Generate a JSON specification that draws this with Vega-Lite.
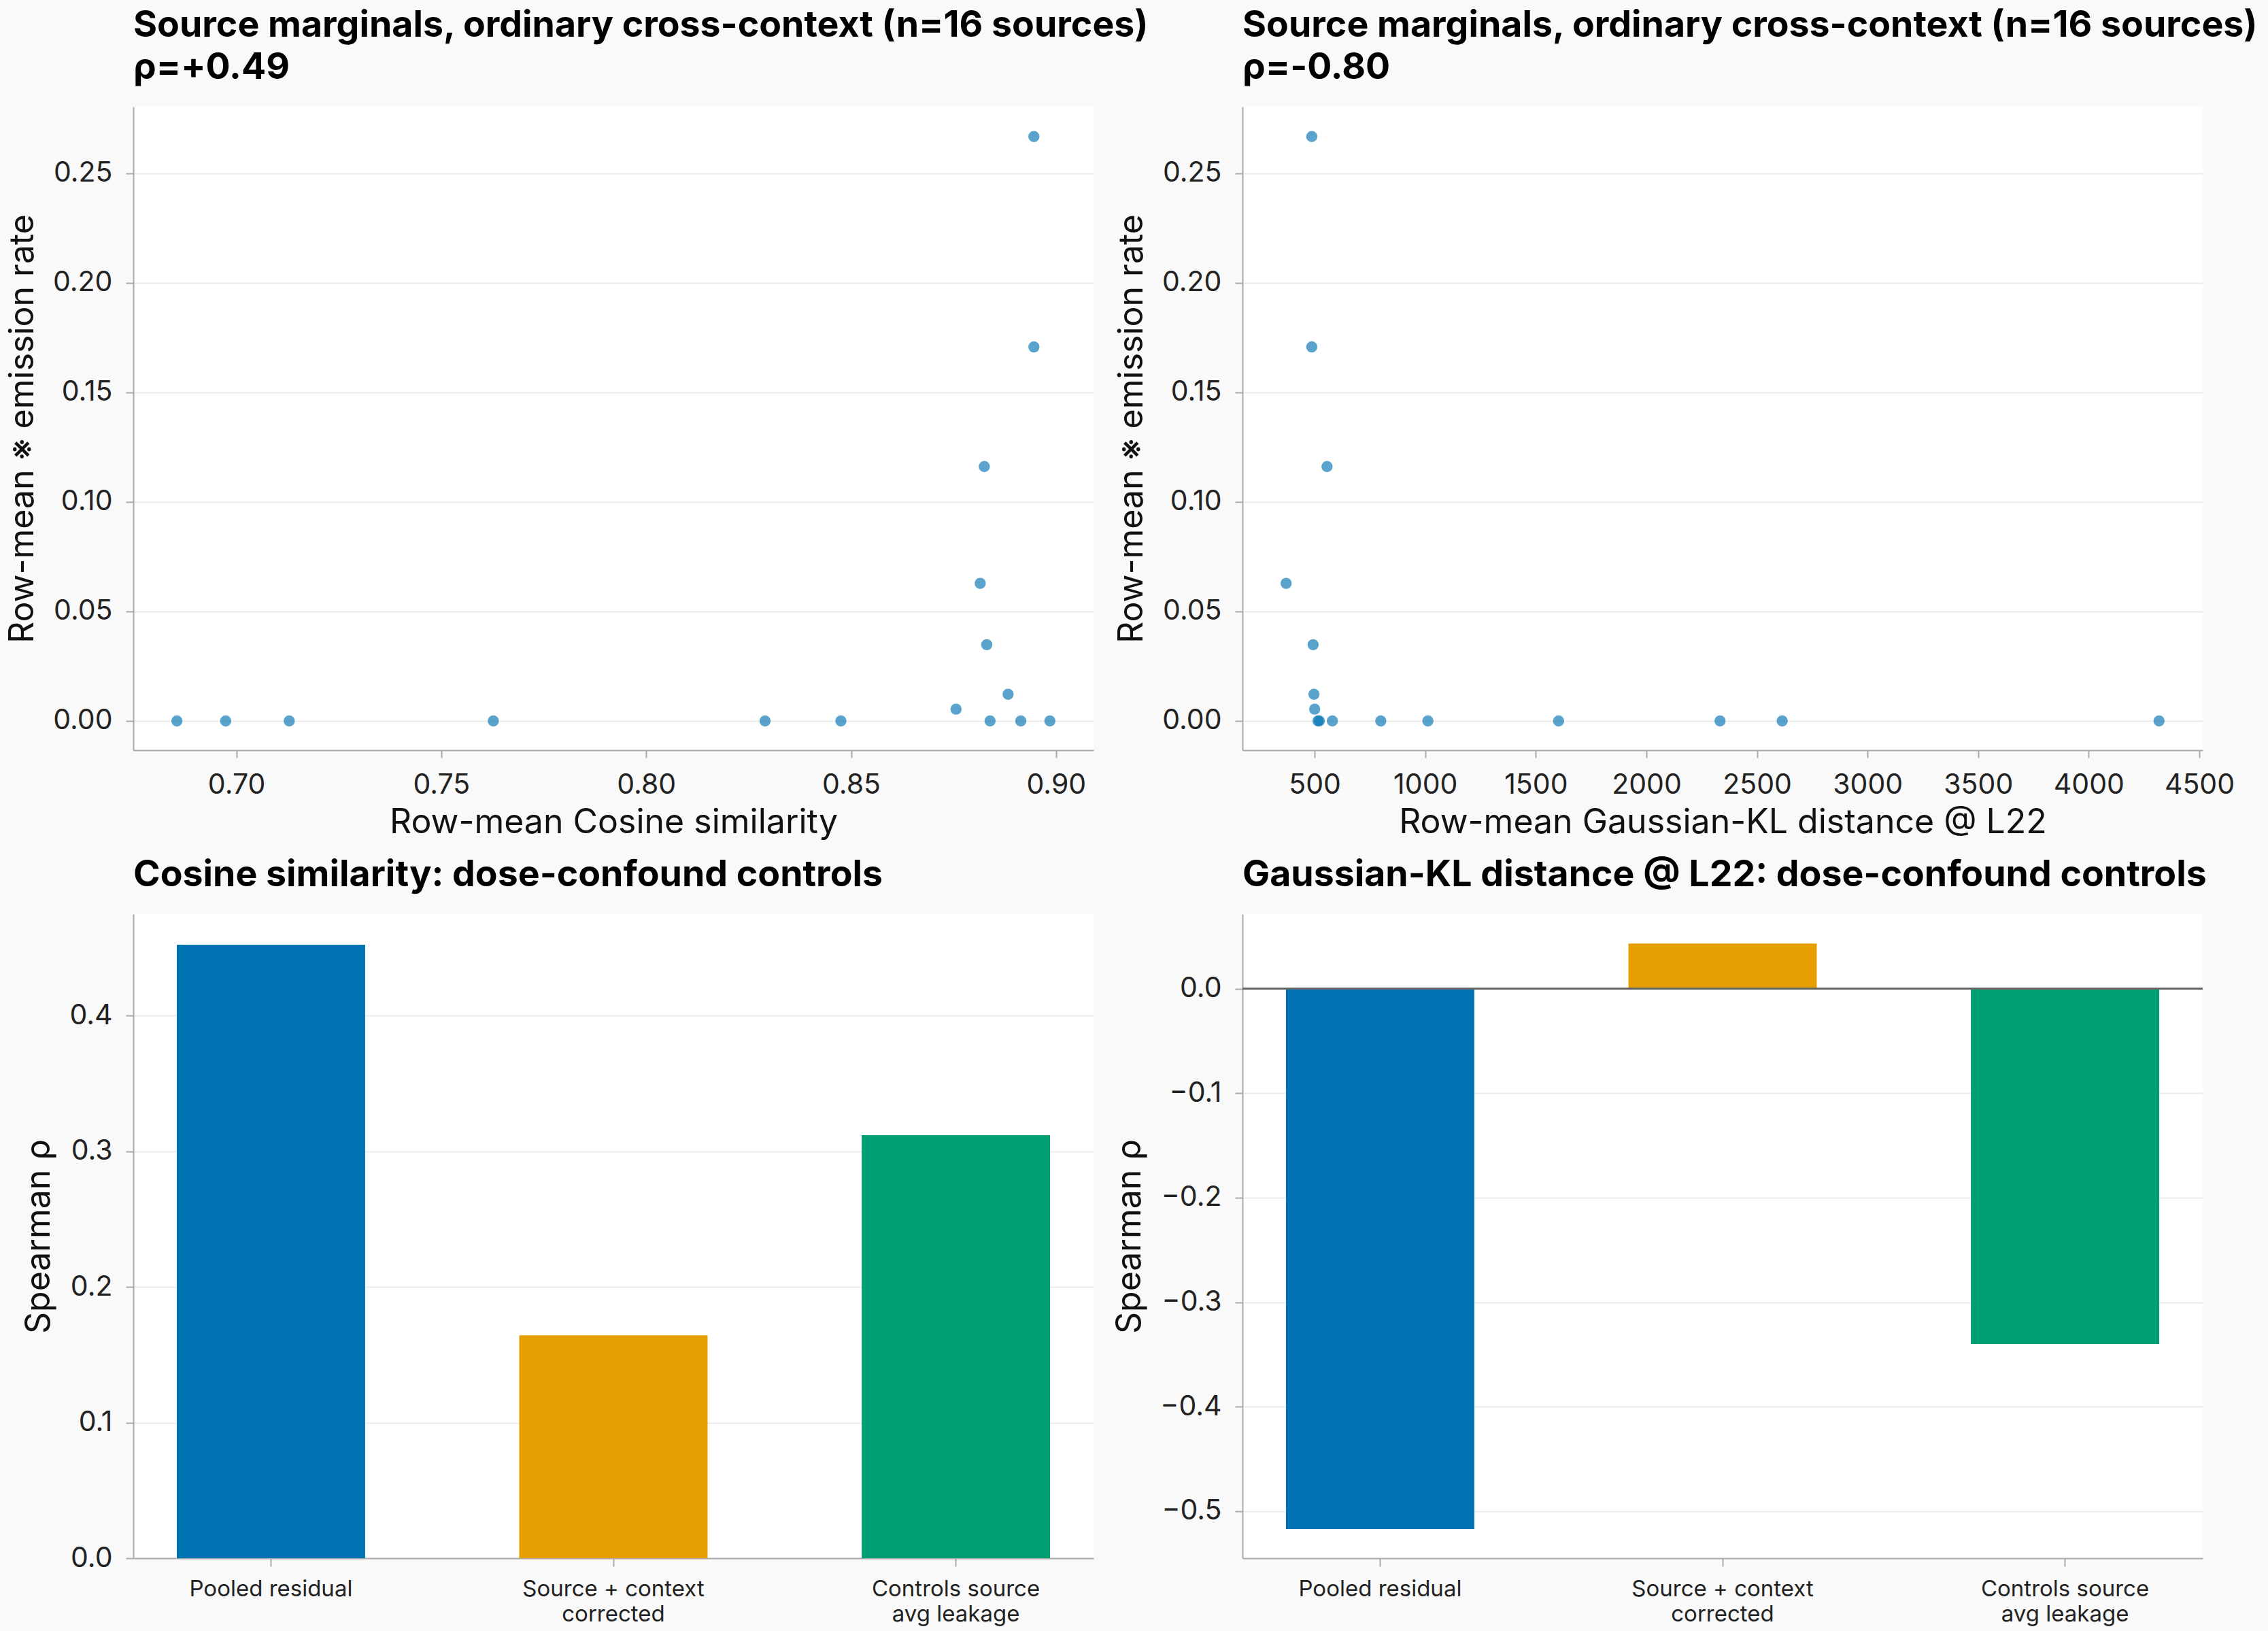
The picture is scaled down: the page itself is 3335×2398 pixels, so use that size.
{
  "$schema": "https://vega.github.io/schema/vega-lite/v6.json",
  "background": "#f9f9f9",
  "padding": {"left": 8, "top": 11, "right": 40, "bottom": 40},
  "autosize": {"type": "pad"},
  "bounds": "flush",
  "columns": 2,
  "spacing": {"row": 241, "column": 219},
  "datasets": {
    "sources": [
      {"cos": 0.8946, "kl": 487, "emit": 0.2667},
      {"cos": 0.8946, "kl": 487, "emit": 0.1707},
      {"cos": 0.8825, "kl": 556, "emit": 0.1161},
      {"cos": 0.8815, "kl": 371, "emit": 0.0628},
      {"cos": 0.8831, "kl": 493, "emit": 0.0348},
      {"cos": 0.8883, "kl": 497, "emit": 0.0122},
      {"cos": 0.8756, "kl": 500, "emit": 0.0054},
      {"cos": 0.6855, "kl": 4318, "emit": 0},
      {"cos": 0.6974, "kl": 2614, "emit": 0},
      {"cos": 0.7129, "kl": 2333, "emit": 0},
      {"cos": 0.7627, "kl": 1603, "emit": 0},
      {"cos": 0.8290, "kl": 1012, "emit": 0},
      {"cos": 0.8475, "kl": 799, "emit": 0},
      {"cos": 0.8839, "kl": 580, "emit": 0},
      {"cos": 0.8914, "kl": 521, "emit": 0},
      {"cos": 0.8985, "kl": 515, "emit": 0}
    ],
    "controls": [
      {"metric": "cos", "control": "Pooled residual", "rho": 0.4523},
      {"metric": "cos", "control": "Source + context\ncorrected", "rho": 0.1643},
      {"metric": "cos", "control": "Controls source\navg leakage", "rho": 0.3119},
      {"metric": "kl", "control": "Pooled residual", "rho": -0.517},
      {"metric": "kl", "control": "Source + context\ncorrected", "rho": 0.0432},
      {"metric": "kl", "control": "Controls source\navg leakage", "rho": -0.34}
    ]
  },
  "config": {
    "font": "Inter",
    "view": {"fill": "white", "stroke": null},
    "axis": {
      "domainColor": "#aaaaaa",
      "domainWidth": 2,
      "tickColor": "#aaaaaa",
      "tickWidth": 2,
      "tickSize": 11,
      "labelFont": "Inter",
      "labelFontSize": 41,
      "labelColor": "#222222",
      "labelPadding": 20,
      "labelOverlap": false,
      "labelLimit": 0,
      "titleFont": "Inter",
      "titleFontSize": 50,
      "titleFontWeight": "normal",
      "titleColor": "#111111",
      "gridColor": "#ebebeb",
      "gridWidth": 2
    },
    "axisX": {"grid": false, "titlePadding": 10},
    "axisY": {"grid": true, "titlePadding": 19},
    "title": {
      "font": "Inter",
      "fontSize": 53.6,
      "fontWeight": "bold",
      "anchor": "start",
      "color": "#000000",
      "offset": 29,
      "lineHeight": 62,
      "frame": "group"
    }
  },
  "concat": [
    {
      "width": 1412,
      "height": 946,
      "title": {"text": ["Source marginals, ordinary cross-context (n=16 sources)", "ρ=+0.49"]},
      "data": {"name": "sources"},
      "mark": {"type": "circle", "size": 270, "color": "#0072B2", "opacity": 0.65},
      "encoding": {
        "x": {
          "field": "cos", "type": "quantitative",
          "scale": {"domain": [0.67485, 0.90915], "nice": false, "zero": false},
          "axis": {"title": "Row-mean Cosine similarity", "values": [0.70, 0.75, 0.80, 0.85, 0.90], "format": ".2f"}
        },
        "y": {
          "field": "emit", "type": "quantitative",
          "scale": {"domain": [-0.01335, 0.2803], "nice": false, "zero": false},
          "axis": {"title": "Row-mean ※ emission rate", "values": [0, 0.05, 0.10, 0.15, 0.20, 0.25], "format": ".2f"}
        }
      }
    },
    {
      "width": 1412,
      "height": 946,
      "title": {"text": ["Source marginals, ordinary cross-context (n=16 sources)", "ρ=-0.80"]},
      "data": {"name": "sources"},
      "mark": {"type": "circle", "size": 270, "color": "#0072B2", "opacity": 0.65},
      "encoding": {
        "x": {
          "field": "kl", "type": "quantitative",
          "scale": {"domain": [173.6, 4515.4], "nice": false, "zero": false},
          "axis": {"title": "Row-mean Gaussian-KL distance @ L22", "values": [500, 1000, 1500, 2000, 2500, 3000, 3500, 4000, 4500], "format": "d"}
        },
        "y": {
          "field": "emit", "type": "quantitative",
          "scale": {"domain": [-0.01335, 0.2803], "nice": false, "zero": false},
          "axis": {"title": "Row-mean ※ emission rate", "values": [0, 0.05, 0.10, 0.15, 0.20, 0.25], "format": ".2f"}
        }
      }
    },
    {
      "width": 1412,
      "height": 947,
      "title": {"text": "Cosine similarity: dose-confound controls"},
      "data": {"name": "controls"},
      "transform": [{"filter": "datum.metric === 'cos'"}],
      "mark": {"type": "bar"},
      "encoding": {
        "x": {
          "field": "control", "type": "nominal",
          "sort": ["Pooled residual", "Source + context\ncorrected", "Controls source\navg leakage"],
          "scale": {"paddingInner": 0.45, "paddingOuter": 0.127},
          "axis": {"title": null, "labelAngle": 0, "labelFontSize": 33, "labelLineHeight": 37, "labelPadding": 17, "tickSize": 12, "labelLimit": 0, "labelExpr": "split(datum.value, '\\n')"}
        },
        "y": {
          "field": "rho", "type": "quantitative",
          "scale": {"domain": [0, 0.4749], "nice": false},
          "axis": {"title": "Spearman ρ", "values": [0, 0.1, 0.2, 0.3, 0.4], "format": ".1f"}
        },
        "color": {
          "field": "control", "type": "nominal",
          "scale": {"domain": ["Pooled residual", "Source + context\ncorrected", "Controls source\navg leakage"], "range": ["#0072B2", "#E69F00", "#009E73"]},
          "legend": null
        }
      }
    },
    {
      "width": 1412,
      "height": 947,
      "title": {"text": "Gaussian-KL distance @ L22: dose-confound controls"},
      "data": {"name": "controls"},
      "transform": [{"filter": "datum.metric === 'kl'"}],
      "layer": [
        {
          "mark": {"type": "bar"},
          "encoding": {
            "x": {
              "field": "control", "type": "nominal",
              "sort": ["Pooled residual", "Source + context\ncorrected", "Controls source\navg leakage"],
              "scale": {"paddingInner": 0.45, "paddingOuter": 0.127},
              "axis": {"title": null, "labelAngle": 0, "labelFontSize": 33, "labelLineHeight": 37, "labelPadding": 17, "tickSize": 12, "labelLimit": 0, "labelExpr": "split(datum.value, '\\n')"}
            },
            "y": {
              "field": "rho", "type": "quantitative",
              "scale": {"domain": [-0.545, 0.0713], "nice": false, "zero": false},
              "axis": {"title": "Spearman ρ", "values": [-0.5, -0.4, -0.3, -0.2, -0.1, 0], "format": ".1f"}
            },
            "color": {
              "field": "control", "type": "nominal",
              "scale": {"domain": ["Pooled residual", "Source + context\ncorrected", "Controls source\navg leakage"], "range": ["#0072B2", "#E69F00", "#009E73"]},
              "legend": null
            }
          }
        },
        {
          "mark": {"type": "rule", "color": "#666666", "strokeWidth": 2.5},
          "encoding": {"y": {"datum": 0}}
        }
      ]
    }
  ]
}
